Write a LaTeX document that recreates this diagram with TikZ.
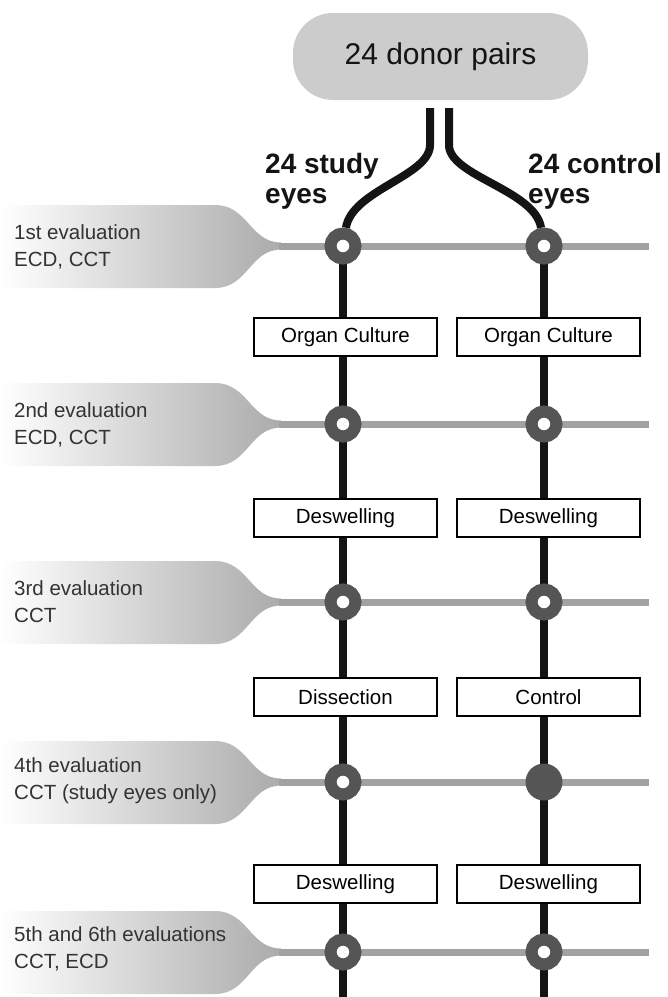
\documentclass[tikz,border=0pt]{standalone}
\usepackage{fontspec}
\setmainfont{Liberation Sans}
\usetikzlibrary{backgrounds}
\definecolor{tabgray}{HTML}{ABABAB}
\definecolor{hgray}{HTML}{A2A2A2}
\definecolor{ringgray}{HTML}{555555}
\definecolor{boxgray}{HTML}{CCCCCC}
\definecolor{txtgray}{HTML}{333333}
\definecolor{vblack}{HTML}{141414}
\begin{document}
\begin{tikzpicture}[x=1pt,y=-1pt,
  ring/.style={circle,draw=ringgray,line width=12pt,fill=white,minimum size=25pt,inner sep=0pt},
  dot/.style={circle,fill=ringgray,minimum size=37pt,inner sep=0pt},
  stepbox/.style={draw=black,line width=2pt,fill=white,minimum width=183pt,minimum height=38pt,inner sep=0pt,font=\fontsize{20.5}{24}\selectfont},
  vline/.style={draw=vblack,line width=8pt},
  hline/.style={draw=hgray,line width=7pt},
  evlabel/.style={anchor=west,align=left,text=txtgray,font=\fontsize{20.5}{27}\selectfont,inner sep=0pt},
  eyes/.style={anchor=west,align=left,text=vblack,font=\bfseries\fontsize{28}{30}\selectfont,inner sep=0pt},
  donorbox/.style={fill=boxgray,rounded corners=40pt,minimum width=295pt,minimum height=87pt,inner sep=0pt,text=vblack,font=\fontsize{30}{34}\selectfont}]
\useasboundingbox (0,0) rectangle (668,997);

% top node
\node[donorbox] (donor) at (440.5,56.5) {24 donor pairs};
\node[eyes] (studylbl) at (265,181) {24 study\\eyes};
\node[eyes] (ctrllbl) at (528,181) {24 control\\eyes};

% intersections
\node[ring] (s1) at (343,246) {};
\node[ring] (s2) at (343,424) {};
\node[ring] (s3) at (343,602) {};
\node[ring] (s4) at (343,782) {};
\node[ring] (s5) at (343,952) {};
\node[ring] (c1) at (544,246) {};
\node[ring] (c2) at (544,424) {};
\node[ring] (c3) at (544,602) {};
\node[dot]  (c4) at (544,782) {};
\node[ring] (c5) at (544,952) {};

% process boxes
\node[stepbox] (sb1) at (345.5,337) {Organ Culture};
\node[stepbox] (cb1) at (548.5,337) {Organ Culture};
\node[stepbox] (sb2) at (345.5,518) {Deswelling};
\node[stepbox] (cb2) at (548.5,518) {Deswelling};
\node[stepbox] (sb3) at (345.5,697) {Dissection};
\node[stepbox] (cb3) at (548.5,697) {Control};
\node[stepbox] (sb4) at (345.5,884) {Deswelling};
\node[stepbox] (cb4) at (548.5,884) {Deswelling};

% evaluation labels
\node[evlabel] (e1) at (14,247) {1st evaluation\\ECD, CCT};
\node[evlabel] (e2) at (14,425) {2nd evaluation\\ECD, CCT};
\node[evlabel] (e3) at (14,602) {3rd evaluation\\CCT};
\node[evlabel] (e4) at (14,781) {4th evaluation\\CCT (study eyes only)};
\node[evlabel] (e5) at (14,949) {5th and 6th evaluations\\CCT, ECD};

\coordinate (dl) at (430,108);
\coordinate (dr) at (449,108);
\coordinate (dlk) at (430,145);
\coordinate (drk) at (449,145);
\coordinate (sbot) at (343,997);
\coordinate (cbot) at (544,997);

\begin{scope}[on background layer]
  \foreach \c in {246,424,602,782,952}{
    \shade[left color=white,right color=tabgray]
      (0,{\c-41}) -- (215,{\c-41}) .. controls (248,{\c-41}) and (250,{\c-3.5}) .. (281,{\c-3.5})
      -- (281,{\c+3.5}) .. controls (250,{\c+3.5}) and (248,{\c+42}) .. (215,{\c+42}) -- (0,{\c+42}) -- cycle;
    \coordinate (hs) at (279,\c);
    \coordinate (he) at (649,\c);
    \draw[hline] (hs) -- (he);
  }
  \draw[vline] (s1.center) -- (sbot);
  \draw[vline] (c1.center) -- (cbot);
  \draw[vline] (dl) -- (dlk) .. controls (430,176) and (352,190) .. (s1);
  \draw[vline] (dr) -- (drk) .. controls (449,176) and (535,190) .. (c1);
\end{scope}
\end{tikzpicture}
\end{document}
